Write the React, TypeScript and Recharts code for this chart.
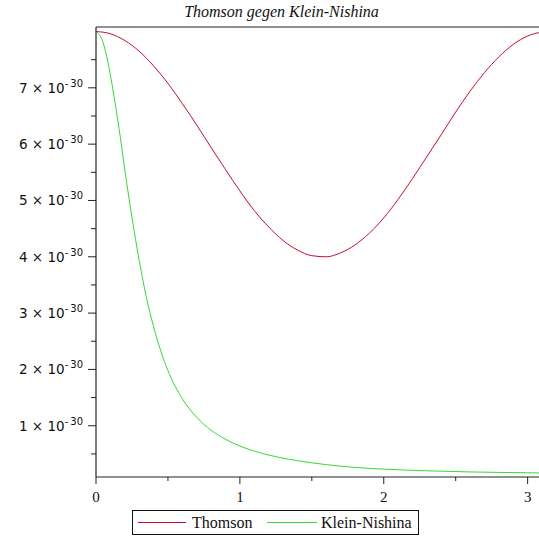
import React from "react";
import { LineChart, Line, XAxis, YAxis, ReferenceLine, Legend } from "recharts";

// angle theta (rad) and differential cross-section in units of 1e-30
const thomsonTheta = [0, 0.1, 0.2, 0.3, 0.4, 0.5, 0.6, 0.7, 0.8, 0.9, 1.0, 1.1, 1.2, 1.3, 1.4, 1.5, 1.6, 1.7, 1.8, 1.9, 2.0, 2.1, 2.2, 2.3, 2.4, 2.5, 2.6, 2.7, 2.8, 2.9, 3.0, 3.1, 3.1416];
const thomsonValues = [8.0, 7.96, 7.84, 7.65, 7.39, 7.08, 6.72, 6.34, 5.94, 5.55, 5.17, 4.82, 4.53, 4.29, 4.12, 4.02, 4.0, 4.07, 4.21, 4.42, 4.69, 5.02, 5.39, 5.78, 6.17, 6.57, 6.94, 7.27, 7.55, 7.77, 7.92, 7.99, 8.0];

const kleinTheta = [0, 0.04, 0.08, 0.12, 0.16, 0.2, 0.25, 0.3, 0.35, 0.4, 0.45, 0.5, 0.6, 0.7, 0.8, 0.9, 1.0, 1.2, 1.4, 1.6, 1.8, 2.0, 2.3, 2.6, 3.0, 3.1416];
const kleinValues = [8.0, 7.87, 7.49, 6.93, 6.28, 5.55, 4.7, 3.94, 3.28, 2.76, 2.33, 1.98, 1.48, 1.15, 0.92, 0.76, 0.64, 0.48, 0.38, 0.31, 0.26, 0.23, 0.2, 0.18, 0.165, 0.16];

const xTicks = [0, 0.5, 1, 1.5, 2, 2.5, 3];
const yTicks = [0.5, 1, 1.5, 2, 2.5, 3, 3.5, 4, 4.5, 5, 5.5, 6, 6.5, 7, 7.5];
const yExponent = "30";
const title = "Thomson gegen Klein-Nishina";
const seriesNames = ["Thomson", "Klein-Nishina"];
const Y_MIN = 0.09;
const Y_MAX = 8.08;

const thomsonData = thomsonTheta.map((t, i) => ({ theta: t, v: thomsonValues[i] }));
const kleinData = kleinTheta.map((t, i) => ({ theta: t, v: kleinValues[i] }));

const RED = "#cc0a30";
const GREEN = "#35d835";
const AXIS = "#222";
const SERIF = "'Liberation Serif', 'Times New Roman', 'DejaVu Serif', serif";

const XTick = (props: any) => {
  const { x, y, payload } = props;
  const v = payload.value;
  const major = Number.isInteger(v);
  return (
    <g>
      <line x1={x} x2={x} y1={y} y2={y + (major ? 7 : 4)} stroke={AXIS} strokeWidth={1} />
      {major && (
        <text x={x} y={y + 25} textAnchor="middle" style={{ fontFamily: SERIF, fontSize: 15 }} fill="#111">
          {v}
        </text>
      )}
    </g>
  );
};

const YTick = (props: any) => {
  const { x, y, payload } = props;
  const v = payload.value;
  const major = Number.isInteger(v);
  return (
    <g>
      <line x1={x} x2={x - (major ? 8 : 5)} y1={y} y2={y} stroke={AXIS} strokeWidth={1} />
      {major && (
        <text x={83} y={y + 5} textAnchor="end" style={{ fontFamily: "'DejaVu Sans', sans-serif", fontSize: 13.5 }} fill="#111">
          <tspan>{`${v} × 10`}</tspan>
          <tspan dy={-6} style={{ fontSize: 10 }}>-</tspan>
          <tspan dx={2} style={{ fontSize: 10 }}>{yExponent}</tspan>
        </text>
      )}
    </g>
  );
};

const LegendBox = () => (
  <div
    style={{
      boxSizing: "border-box",
      width: 287,
      height: 25,
      border: "1px solid #111",
      position: "relative",
      fontFamily: SERIF,
      fontSize: 16,
      color: "#111",
      whiteSpace: "nowrap",
    }}
  >
    <div style={{ position: "absolute", left: 5, top: 11, width: 48, height: 1, background: RED }} />
    <div style={{ position: "absolute", left: 59, top: 1, lineHeight: "21px", whiteSpace: "nowrap" }}>{seriesNames[0]}</div>
    <div style={{ position: "absolute", left: 134, top: 11, width: 50, height: 1, background: GREEN }} />
    <div style={{ position: "absolute", left: 188, top: 1, lineHeight: "21px", whiteSpace: "nowrap" }}>{seriesNames[1]}</div>
  </div>
);

export default function App() {
  return (
    <div style={{ position: "absolute", left: 0, top: 0, width: 539, height: 536, overflow: "hidden", background: "#fff" }}>
      <div
        style={{
          position: "absolute",
          left: 0,
          width: 563,
          top: 3,
          textAlign: "center",
          fontFamily: SERIF,
          fontStyle: "italic",
          fontSize: 16,
          color: "#111",
          zIndex: 2,
        }}
      >
        {title}
      </div>
      <LineChart width={560} height={536} margin={{ top: 27, right: 12, bottom: 0, left: 0 }}>
        <XAxis
          dataKey="theta"
          type="number"
          domain={[0, Math.PI]}
          ticks={xTicks}
          interval={0}
          tickSize={0}
          tickMargin={0}
          tick={<XTick />}
          height={59}
          axisLine={{ stroke: AXIS, strokeWidth: 1.2 }}
          allowDataOverflow
        />
        <YAxis
          type="number"
          domain={[Y_MIN, Y_MAX]}
          ticks={yTicks}
          interval={0}
          tickSize={0}
          tickMargin={0}
          tick={<YTick />}
          width={96}
          axisLine={{ stroke: AXIS, strokeWidth: 1.2 }}
          allowDataOverflow
        />
        <ReferenceLine y={Y_MAX} stroke={AXIS} strokeWidth={1.2} />
        <Line data={thomsonData} dataKey="v" name={seriesNames[0]} type="monotone" stroke={RED} strokeWidth={1} dot={false} isAnimationActive={false} />
        <Line data={kleinData} dataKey="v" name={seriesNames[1]} type="monotone" stroke={GREEN} strokeWidth={1} dot={false} isAnimationActive={false} />
        <Legend
          layout="horizontal"
          verticalAlign="middle"
          content={<LegendBox />}
          wrapperStyle={{ left: 132, top: 510, width: 287, height: 25 }}
        />
      </LineChart>
    </div>
  );
}
